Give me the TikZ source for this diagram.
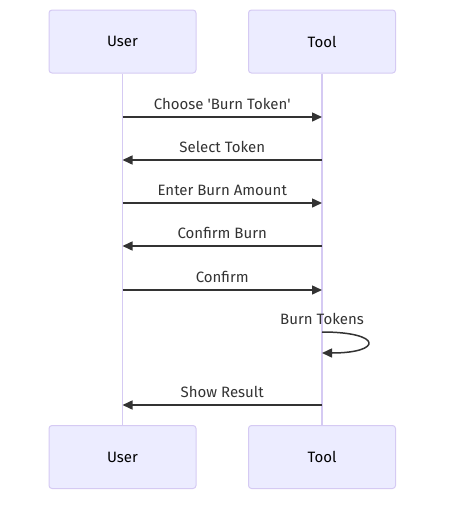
\documentclass[tikz,border=0pt]{standalone}
\usepackage{fontspec}
\setmainfont{Fira Sans}
\usetikzlibrary{arrows.meta}

\definecolor{actorfill}{HTML}{ECECFF}
\definecolor{actorline}{HTML}{D5CAF3}
\definecolor{msgline}{HTML}{333333}

\begin{document}
\begin{tikzpicture}[x=1pt,y=-1pt,
  actor/.style={draw=actorline, fill=actorfill, line width=1pt, rounded corners=3pt,
    minimum width=147pt, minimum height=63pt, font=\fontsize{15}{17}\selectfont},
  lifeline/.style={draw=actorline, line width=1.5pt},
  msg/.style={draw=msgline, line width=1.5pt, -{Triangle[length=10pt,width=9pt]}},
  msglabel/.style={font=\fontsize{15}{17}\selectfont, text=msgline, above=3.5pt}]
\useasboundingbox (0,0) rectangle (454,509);

\node[actor] (usertop) at (122.5,41.5) {User};
\node[actor] (tooltop) at (322,41.5) {Tool};
\node[actor] (userbot) at (122.5,457) {User};
\node[actor] (toolbot) at (322,457) {Tool};

\draw[lifeline] (usertop) -- (userbot);
\draw[lifeline] (tooltop) -- (toolbot);

% points on the lifelines
\foreach \n/\y in {1/117,2/160,3/203,4/246,5/290,6/332,7/353,8/405}{
  \coordinate (u\n) at (122.5,\y);
  \coordinate (t\n) at (322,\y);
}

\draw[msg] (u1) -- node[msglabel] {Choose \textquotesingle Burn Token\textquotesingle} (t1);
\draw[msg] (t2) -- node[msglabel] {Select Token} (u2);
\draw[msg] (u3) -- node[msglabel] {Enter Burn Amount} (t3);
\draw[msg] (t4) -- node[msglabel] {Confirm Burn} (u4);
\draw[msg] (u5) -- node[msglabel] {Confirm} (t5);
\draw[msg] (t6) .. controls +(61,0) and +(61,0) .. (t7);
\node[msglabel] (burnlabel) at (t6) {Burn Tokens};
\draw[msg] (t8) -- node[msglabel] {Show Result} (u8);
\end{tikzpicture}
\end{document}
